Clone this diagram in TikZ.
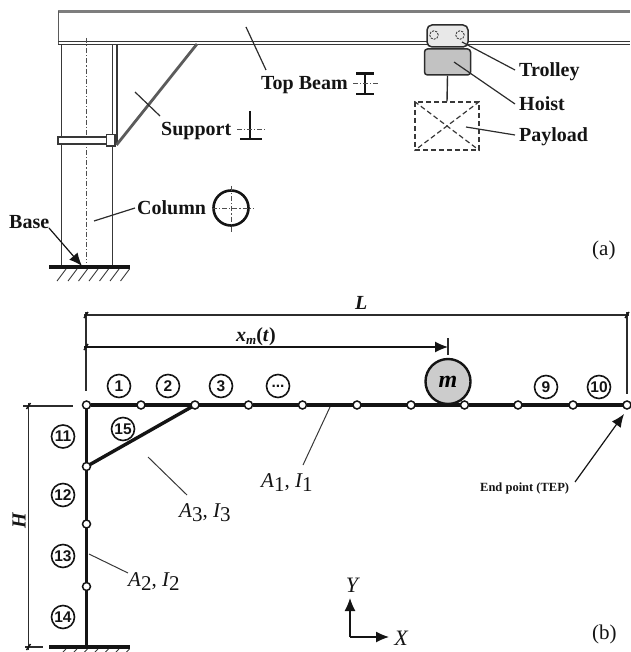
\documentclass[tikz,border=0pt]{standalone}
\usepackage{fontspec}
\setmainfont{Liberation Serif}
\setsansfont{Liberation Sans}
\usetikzlibrary{arrows.meta}
\definecolor{ink}{gray}{0.08}
\tikzset{
  px/.style={x=1pt,y=-1pt},
  lab/.style={font=\fontsize{20}{22}\selectfont\bfseries,text=ink,inner sep=0pt,anchor=base west},
  leader/.style={draw=ink!90,line width=1.2pt},
  thinleader/.style={draw=ink!85,line width=1pt},
  center/.style={draw=ink!75,line width=0.8pt,dash pattern=on 5pt off 2pt on 1.2pt off 2pt},
  num/.style={circle,draw=ink,line width=1.6pt,minimum size=23pt,inner sep=0pt,font=\sffamily\bfseries\fontsize{15.5}{15.5}\selectfont,text=ink},
  joint/.style={circle,draw=ink,line width=1.5pt,fill=white,minimum size=8pt,inner sep=0pt,outer sep=0pt},
  member/.style={draw=ink,line width=3.2pt},
  dim/.style={draw=ink!90,line width=1.2pt},
  tick/.style={draw=ink,line width=1.4pt},
  sym/.style={draw=ink,line width=2.2pt},
  dashbox/.style={draw=ink!85,line width=1.2pt,dash pattern=on 5pt off 3pt},
  wheel/.style={circle,draw=ink!85,line width=0.9pt,dash pattern=on 2pt off 1.2pt,minimum size=8.5pt,inner sep=0pt},
  ital/.style={font=\fontsize{20}{22}\selectfont\bfseries\itshape,text=ink,inner sep=0pt,anchor=base west},
  plain/.style={font=\fontsize{21}{22}\selectfont,text=ink,inner sep=0pt,anchor=base west},
  arr/.style={draw=ink,line width=1.2pt,-{Latex[length=13pt,width=11pt]}},
  struct/.style={draw=ink!85,line width=1.4pt},
}
\begin{document}
\begin{tikzpicture}[px]
\useasboundingbox (0,0) rectangle (630,652);
% ---------- panel (a)
\draw[draw=ink!55,line width=3pt] (58,11.5) -- (630,11.5);
\draw[draw=ink!70,line width=1.2pt] (58.5,11) -- (58.5,44);
\draw[draw=ink!85,line width=1.3pt] (58,41.6) -- (630,41.6);
\draw[draw=ink!85,line width=1.3pt] (58,44.4) -- (630,44.4);
% column
\draw[struct] (61.5,45) -- (61.5,266);
\draw[struct] (112.5,45) -- (112.5,266);
\draw[struct] (117,45) -- (117,143);
\draw[center] (86.5,38) -- (86.5,263);
% collar
\draw[struct,fill=white] (58,137) rectangle (108,144);
\draw[struct,fill=white] (106.5,134.5) rectangle (115,146);
% support
\coordinate (sa) at (116.5,145); \coordinate (sb) at (197,44);
\draw[draw=ink!70,line width=2.8pt] (sa) -- (sb);
% ground
\coordinate (ga) at (49,267); \coordinate (gb) at (130,267);
\draw[draw=ink,line width=3.2pt] (ga) -- (gb);
\foreach \x in {66,77,87.5,98,108.5,119,129.5}
  \draw[draw=ink!85,line width=0.9pt] (\x,269) -- (\x-9,281);
% labels
\node[lab] (base) at (9,228) {Base};
\node[lab] (column) at (137,214.5) {Column};
\node[lab] (support) at (161,135.5) {Support};
\node[lab] (topbeam) at (261,89.5) {Top Beam};
\node[lab] (trolley) at (519,77) {Trolley};
\node[lab] (hoist) at (519,111) {Hoist};
\node[lab] (payload) at (519,142) {Payload};
\node[plain] (la) at (592,255) {(a)};
\node[plain] (lb) at (592,639) {(b)};
% leaders
\coordinate (ltb) at (246,27); \coordinate (ltc) at (266,70);
\draw[leader] (ltb) -- (ltc);
\coordinate (lsa) at (135,92); \coordinate (lsb) at (160,116);
\draw[leader] (lsa) -- (lsb);
\coordinate (lca) at (94,221); \coordinate (lcb) at (135,208);
\draw[leader] (lca) -- (lcb);
\coordinate (lba) at (49,228); \coordinate (lbb) at (82,266);
\draw[arr] (lba) -- (lbb);
% T section
\draw[sym] (250,111) -- (250,139);
\draw[sym,line width=2.8pt] (240,139) -- (262,139);
\draw[center] (237,129) -- (265,129);
% circular section
\node[circle,draw=ink,line width=2.6pt,minimum size=35pt,inner sep=0pt] (cs) at (231,208) {};
\draw[center] (212,208) -- (254,208);
\draw[center] (231,186) -- (231,232);
% I section
\draw[sym] (356,73.5) -- (374,73.5);
\draw[sym] (356,94) -- (374,94);
\draw[draw=ink,line width=1.8pt] (365,73.5) -- (365,94);
\draw[center] (353,83) -- (379,83);
% trolley and hoist
\node[draw=ink!90,line width=1.5pt,fill=black!9,rounded corners=5pt,minimum width=41pt,minimum height=22pt,inner sep=0pt] (trolleybox) at (447.5,36) {};
\node[wheel] (wl) at (434,35) {};
\node[wheel] (wr) at (460,35) {};
\node[draw=ink!90,line width=1.5pt,fill=black!24,rounded corners=3pt,minimum width=46pt,minimum height=26pt,inner sep=0pt] (hoistbox) at (447.5,62) {};
\node[dashbox,minimum width=64pt,minimum height=48pt,inner sep=0pt] (pbox) at (447,126) {};
\draw[draw=ink!90,line width=1.4pt] (hoistbox.south) -- (pbox.north);
\draw[dashbox] (pbox.north west) -- (pbox.south east);
\draw[dashbox] (pbox.north east) -- (pbox.south west);
\coordinate (lt1) at (462,42); \coordinate (lt2) at (515,70);
\draw[leader] (lt1) -- (lt2);
\coordinate (lh1) at (454,62); \coordinate (lh2) at (515,104);
\draw[leader] (lh1) -- (lh2);
\coordinate (lp1) at (466,127); \coordinate (lp2) at (515,135);
\draw[leader] (lp1) -- (lp2);
% ---------- panel (b)
% joints on the top beam
\foreach \i/\x in {0/86.5,1/141,2/195,3/248.5,4/302.5,5/357,6/411,7/464.5,8/518,9/573,10/627}
  \node[joint] (n\i) at (\x,405) {};
\foreach \i/\j in {0/1,1/2,2/3,3/4,4/5,5/6,6/7,7/8,8/9,9/10}
  \draw[member] (n\i) -- (n\j);
% joints on the column
\foreach \i/\y in {1/466.5,2/524,3/586.5}
  \node[joint] (c\i) at (86.5,\y) {};
\coordinate (c4) at (86.5,647);
\draw[member] (n0) -- (c1);
\draw[member] (c1) -- (c2);
\draw[member] (c2) -- (c3);
\draw[member] (c3) -- (c4);
\draw[member,line width=3.4pt] (c1) -- (n2);
% ground
\draw[draw=ink,line width=3.2pt] (49,647) -- (130,647);
\foreach \x in {66,77,87.5,98,108.5,119,129.5}
  \draw[draw=ink!85,line width=0.9pt] (\x,649) -- (\x-3,652);
% mass
\node[circle,draw=ink,line width=2.4pt,fill=black!20,minimum size=45pt,inner sep=0pt,font=\fontsize{24}{24}\selectfont\bfseries\itshape] (mass) at (448,381.5) {m};
% element numbers
\node[num] (e1) at (119,386) {1};
\node[num] (e2) at (168,386) {2};
\node[num] (e3) at (221,386) {3};
\node[num] (e4) at (278,386) {...};
\node[num] (e9) at (546,387) {9};
\node[num] (e10) at (599,387) {10};
\node[num] (e11) at (63,436.5) {11};
\node[num] (e12) at (63,495) {12};
\node[num] (e13) at (63,556) {13};
\node[num] (e14) at (63,617) {14};
\node[num] (e15) at (123,429) {15};
% dimensions
\coordinate (d0) at (86,312); \coordinate (d0b) at (86,391);
\coordinate (d1) at (627,312); \coordinate (d1b) at (627,394);
\draw[dim] (d0) -- (d0b);
\draw[dim] (d1) -- (d1b);
\coordinate (la0) at (84,315); \coordinate (la1) at (629,315);
\draw[dim] (la0) -- (la1);
\node[ital] (lenL) at (355,309) {L};
\coordinate (xa) at (84,347); \coordinate (xb) at (448,347);
\draw[arr] (xa) -- (xb);
\coordinate (xt) at (448,338); \coordinate (xu) at (448,355);
\draw[dim] (xt) -- (xu);
\node[font=\fontsize{20}{22}\selectfont\bfseries\itshape,text=ink,inner sep=0pt,anchor=base west] (xm) at (236,341) {x\raisebox{-3pt}{\fontsize{13}{13}\selectfont m}\textup{(}t\textup{)}};
\coordinate (ha) at (23,406); \coordinate (hb) at (73,406);
\draw[dim] (ha) -- (hb);
\coordinate (hc) at (25,647); \coordinate (hd) at (43,647);
\draw[dim] (hc) -- (hd);
\coordinate (he) at (28.5,403); \coordinate (hf) at (28.5,650);
\draw[dim] (he) -- (hf);
% small oblique ticks at dimension ends
\draw[tick] (84,318) -- (88,312);
\draw[tick] (84,350) -- (88,344);
\draw[tick] (625,318) -- (629,312);
\draw[tick] (26.5,409) -- (30.5,403);
\draw[tick] (26.5,650) -- (30.5,644);
\node[font=\fontsize{20}{22}\selectfont\bfseries\itshape,text=ink,inner sep=0pt,rotate=90] (hh) at (19,521) {H};
% section labels
\newcommand{\secl}[2]{\fontsize{21}{22}\selectfont\itshape A\raisebox{-4pt}{\upshape\fontsize{21}{20}\selectfont #1}\upshape, \itshape I\raisebox{-4pt}{\upshape\fontsize{21}{20}\selectfont #2}}
\node[inner sep=0pt,anchor=base west,text=ink] (s1) at (261,487) {\secl{1}{1}};
\node[inner sep=0pt,anchor=base west,text=ink] (s3) at (179,517) {\secl{3}{3}};
\node[inner sep=0pt,anchor=base west,text=ink] (s2) at (128,586) {\secl{2}{2}};
\coordinate (a1a) at (330,407); \coordinate (a1b) at (303,465);
\draw[thinleader] (a1a) -- (a1b);
\coordinate (a3a) at (148,457); \coordinate (a3b) at (187,495);
\draw[thinleader] (a3a) -- (a3b);
\coordinate (a2a) at (89,554); \coordinate (a2b) at (128,573);
\draw[thinleader] (a2a) -- (a2b);
% end point
\node[font=\fontsize{12.5}{12}\selectfont\bfseries,text=ink,inner sep=0pt,anchor=base west] (tep) at (480,491) {End point (TEP)};
\coordinate (tepa) at (575,482); \coordinate (tepb) at (624,414);
\draw[arr] (tepa) -- (tepb);
% axes
\coordinate (o) at (350,637); \coordinate (oy) at (350,598); \coordinate (ox) at (389,637);
\draw[arr] (o) -- (oy);
\draw[arr] (o) -- (ox);
\node[font=\fontsize{22}{22}\selectfont\itshape,text=ink,inner sep=0pt] (ylab) at (352,585) {Y};
\node[font=\fontsize{22}{22}\selectfont\itshape,text=ink,inner sep=0pt] (xlab) at (401,638) {X};
\end{tikzpicture}
\end{document}
